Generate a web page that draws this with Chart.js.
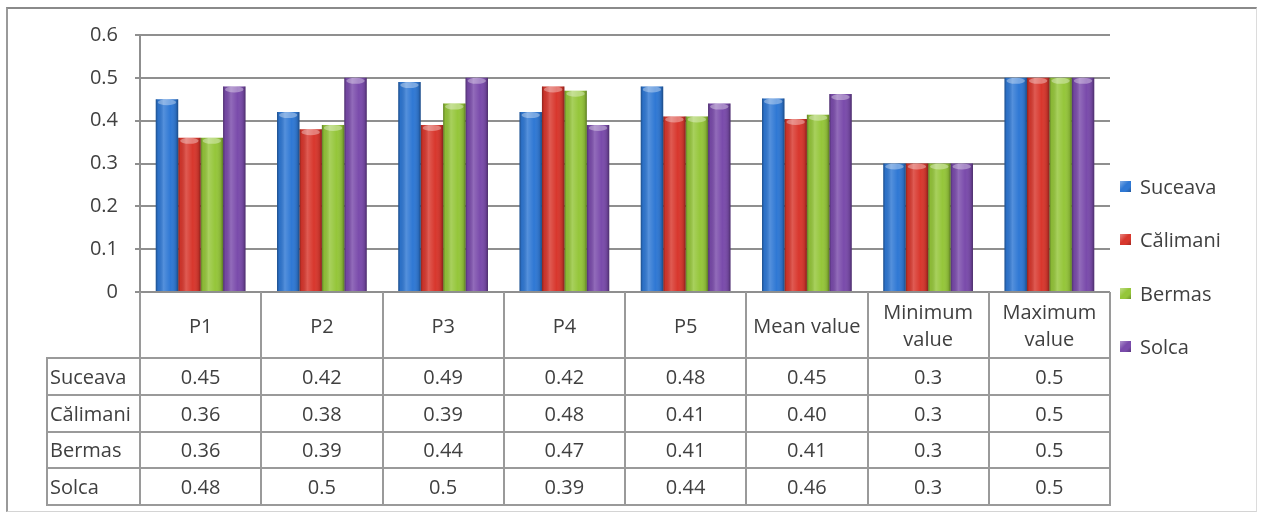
<!DOCTYPE html>
<html>
<head>
<meta charset="utf-8">
<script src="https://cdn.jsdelivr.net/npm/chart.js@4.4.0/dist/chart.umd.min.js"></script>
<style>
html,body{margin:0;padding:0;background:#fff;}
#wrap{position:relative;width:1268px;height:513px;overflow:hidden;font-family:"Open Sans",sans-serif;color:#404040;}
#frame{position:absolute;left:6px;top:7px;width:1251px;height:505px;box-sizing:border-box;border-top:2px solid #8a8a8a;border-left:2px solid #9a9a9a;border-right:1px solid #dcdcdc;border-bottom:1px solid #d4d4d4;}
#cv{position:absolute;left:0;top:0;}
.ln{position:absolute;background:#9a9a9a;}
.cell{position:absolute;display:flex;align-items:center;justify-content:center;text-align:center;font-size:20px;line-height:27px;color:#404040;white-space:nowrap;}
.cell.lab{justify-content:flex-start;padding-left:3px;box-sizing:border-box;}
.leg{position:absolute;font-size:20px;color:#404040;line-height:24px;white-space:nowrap;}
.leg i{position:absolute;left:-20px;top:6px;width:11px;height:11px;}
</style>
</head>
<body>
<div id="wrap">
  <div id="frame"></div>
  <canvas id="cv" width="1268" height="513"></canvas>
</div>
<script>
// ---- data ----
const categories = ["P1", "P2", "P3", "P4", "P5", "Mean value", "Minimum value", "Maximum value"];
const headerLines = [["P1"], ["P2"], ["P3"], ["P4"], ["P5"], ["Mean value"], ["Minimum", "value"], ["Maximum", "value"]];
const seriesNames = ["Suceava", "Călimani", "Bermas", "Solca"];
const suceava  = [0.45, 0.42, 0.49, 0.42, 0.48, 0.452, 0.3, 0.5];
const calimani = [0.36, 0.38, 0.39, 0.48, 0.41, 0.404, 0.3, 0.5];
const bermas   = [0.36, 0.39, 0.44, 0.47, 0.41, 0.414, 0.3, 0.5];
const solca    = [0.48, 0.5, 0.5, 0.39, 0.44, 0.462, 0.3, 0.5];
const yTickLabels = ["0", "0.1", "0.2", "0.3", "0.4", "0.5", "0.6"];
const meanColumn = 5;

const seriesValues = [suceava, calimani, bermas, solca];
const colors = ["#2f78d4", "#d8372d", "#95c63a", "#7a4bab"];

Chart.defaults.font.family = "'Open Sans', sans-serif";
Chart.defaults.font.size = 20;
Chart.defaults.color = "#404040";

const shading = {
  id: "shading",
  afterDatasetsDraw(chart) {
    const ctx = chart.ctx;
    chart.data.datasets.forEach((ds, di) => {
      const meta = chart.getDatasetMeta(di);
      meta.data.forEach(el => {
        const x0 = el.x - el.width / 2, x1 = el.x + el.width / 2;
        const top = el.y, bot = el.base;
        const g = ctx.createLinearGradient(x0, 0, x1, 0);
        g.addColorStop(0, "rgba(0,0,0,0.35)");
        g.addColorStop(0.1, "rgba(0,0,0,0.06)");
        g.addColorStop(0.35, "rgba(255,255,255,0.18)");
        g.addColorStop(0.65, "rgba(255,255,255,0)");
        g.addColorStop(0.9, "rgba(0,0,0,0.12)");
        g.addColorStop(1, "rgba(0,0,0,0.38)");
        ctx.save();
        ctx.fillStyle = g;
        ctx.fillRect(x0, top, x1 - x0, bot - top);
        // top cap highlight
        ctx.beginPath();
        ctx.ellipse(el.x, top + 3, el.width / 2 - 2, 3, 0, 0, Math.PI * 2);
        ctx.fillStyle = "rgba(255,255,255,0.35)";
        ctx.fill();
        ctx.restore();
      });
    });
  }
};

const chart = new Chart(document.getElementById("cv"), {
  type: "bar",
  data: {
    labels: categories,
    datasets: seriesNames.map((n, i) => ({
      label: n,
      data: seriesValues[i],
      backgroundColor: colors[i],
      borderWidth: 0,
      categoryPercentage: 0.74,
      barPercentage: 1.0
    }))
  },
  options: {
    responsive: false,
    animation: false,
    layout: { padding: { left: 60, right: 158, top: 35, bottom: 221 } },
    plugins: { legend: { display: false }, tooltip: { enabled: false } },
    scales: {
      x: { display: false },
      y: {
        min: 0, max: 0.6,
        ticks: {
          stepSize: 0.1,
          padding: 17,
          color: "#404040",
          font: { size: 20 },
          callback: (v, i) => yTickLabels[i]
        },
        grid: { color: "#8f8f8f", lineWidth: 2, tickLength: 5 },
        border: { display: true, color: "#8f8f8f", width: 2 },
        afterFit: s => { s.width = 80; }
      }
    }
  },
  plugins: [shading]
});

// ---- data table & legend (text from the same arrays) ----
const wrap = document.getElementById("wrap");
const ca = chart.chartArea;
const xs = chart.scales.x;
const n = categories.length;
const colW = (ca.right - ca.left) / n;
const labelLeft = 47;
const headTop = ca.bottom;
const rowTop = 358;
const rowH = (505 - rowTop) / seriesNames.length;
const tableBottom = rowTop + rowH * seriesNames.length;

function line(x, y, w, h) {
  const d = document.createElement("div");
  d.className = "ln";
  d.style.left = x + "px"; d.style.top = y + "px";
  d.style.width = w + "px"; d.style.height = h + "px";
  wrap.appendChild(d);
}
function cell(x, y, w, h, html, cls) {
  const d = document.createElement("div");
  d.className = "cell" + (cls ? " " + cls : "");
  d.style.left = x + "px"; d.style.top = y + "px";
  d.style.width = w + "px"; d.style.height = h + "px";
  d.innerHTML = html;
  wrap.appendChild(d);
}
for (let i = 0; i <= n; i++) {
  const x = Math.round(ca.left + i * colW);
  line(x - 1, headTop, 2, tableBottom - headTop + 1);
}
line(labelLeft - 1, rowTop, 2, tableBottom - rowTop + 1);
for (let r = 0; r <= seriesNames.length; r++) {
  const y = Math.round(rowTop + r * rowH);
  line(labelLeft - 1, y - 1, ca.right - labelLeft + 2, 2);
}
categories.forEach((c, i) => {
  const cx = xs.getPixelForValue(i);
  cell(cx - colW / 2, headTop, colW, rowTop - headTop, headerLines[i].join("<br>"));
});
seriesNames.forEach((s, r) => {
  const y = rowTop + r * rowH;
  cell(labelLeft, y, ca.left - labelLeft, rowH, s, "lab");
  seriesValues[r].forEach((v, i) => {
    const cx = xs.getPixelForValue(i);
    const txt = i === meanColumn ? v.toFixed(2) : String(v);
    cell(cx - colW / 2, y, colW, rowH, txt);
  });
});
const legTop = [175, 228, 282, 335];
seriesNames.forEach((s, i) => {
  const d = document.createElement("div");
  d.className = "leg";
  d.style.left = "1140px";
  d.style.top = legTop[i] + "px";
  d.innerHTML = '<i style="background:linear-gradient(135deg,#fff6 0%,' + colors[i] + ' 45%,' + colors[i] + ' 70%,#0004 100%);background-color:' + colors[i] + '"></i>' + s;
  wrap.appendChild(d);
});
</script>
</body>
</html>
